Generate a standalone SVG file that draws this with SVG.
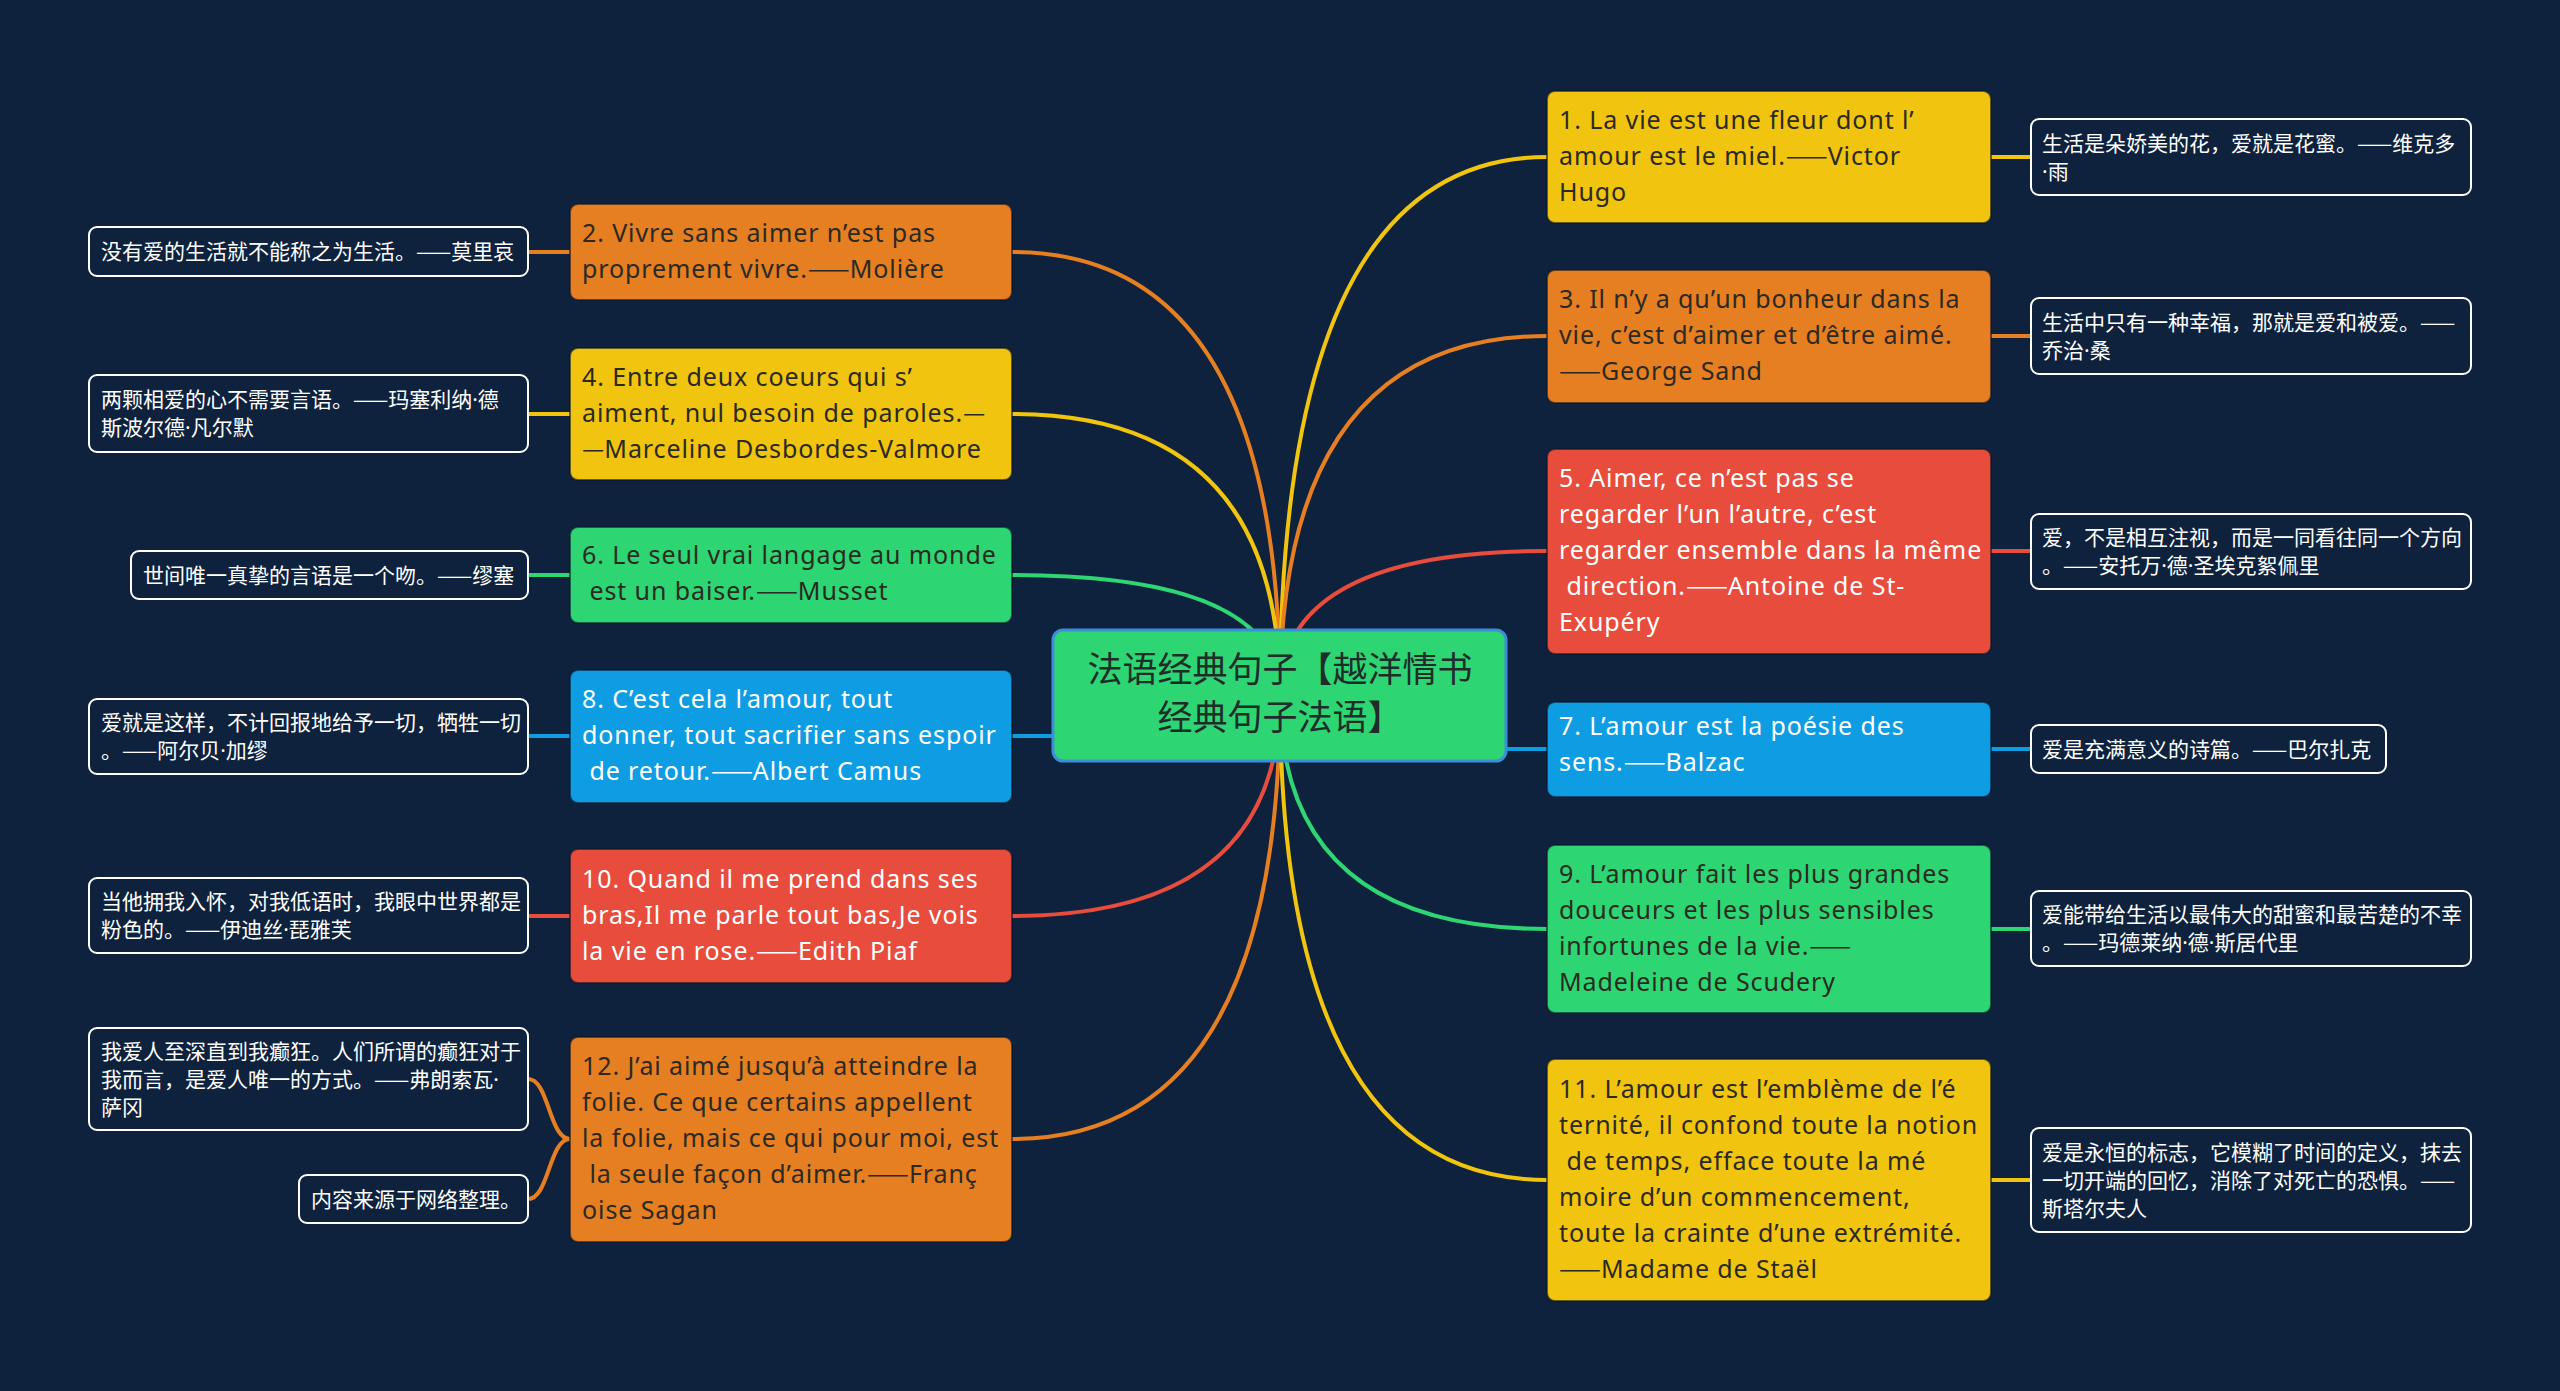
<svg xmlns="http://www.w3.org/2000/svg" width="2560" height="1391" viewBox="0 0 2560 1391">
<style>
.bg{fill:#0e223e}
.c{fill:none;stroke-width:4;stroke-linecap:round}
.cy{stroke:#f1c40f}.co{stroke:#e67e22}.cr{stroke:#e74c3c}.cg{stroke:#2ed573}.cb{stroke:#0e9de3}
.m{stroke:#0a1628;stroke-width:2;stroke-opacity:.6}
.fy{fill:#f1c40f}.fo{fill:#e67e22}.fr{fill:#e74c3c}.fg{fill:#2ed573}.fb{fill:#0e9de3}
.leaf{fill:#0e223e;stroke:#ffffff;stroke-width:2}
.t{font-family:"Noto Sans","Noto Sans CJK SC",sans-serif;font-size:25px;letter-spacing:0.9px;white-space:pre}
.d{font-family:"Noto Sans CJK SC",sans-serif;letter-spacing:0}
.p{font-family:"Noto Sans",sans-serif}
.dk{fill:#2a2a22}.wt{fill:#ffffff}
.lt{font-family:"Noto Sans CJK SC",sans-serif;font-size:21px;fill:#ffffff;white-space:pre}
.ct{font-family:"Noto Sans CJK SC",sans-serif;font-size:35px;fill:#1e2d2a;text-anchor:middle}
</style>
<rect class="bg" x="0" y="0" width="2560" height="1391"/>
<g id="connectors">
<path class="c co" d="M1280 695 Q1280 252 1012 252"/>
<path class="c cy" d="M1280 695 Q1280 414 1012 414"/>
<path class="c cg" d="M1280 695 Q1280 575 1012 575"/>
<path class="c cb" d="M1280 736 L1012 736"/>
<path class="c cr" d="M1280 695 Q1280 916 1012 916"/>
<path class="c co" d="M1280 695 Q1280 1139 1012 1139"/>
<path class="c cy" d="M1280 695 Q1280 157 1547 157"/>
<path class="c co" d="M1280 695 Q1280 336 1547 336"/>
<path class="c cr" d="M1280 695 Q1280 551 1547 551"/>
<path class="c cb" d="M1280 749 L1547 749"/>
<path class="c cg" d="M1280 695 Q1280 929 1547 929"/>
<path class="c cy" d="M1280 695 Q1280 1180 1547 1180"/>
<path class="c co" d="M570 252 L528 252"/>
<path class="c cy" d="M570 414 L528 414"/>
<path class="c cg" d="M570 575 L528 575"/>
<path class="c cb" d="M570 736 L528 736"/>
<path class="c cr" d="M570 916 L528 916"/>
<path class="c co" d="M570 1139 C549 1139 549 1079 528 1079"/>
<path class="c co" d="M570 1139 C549 1139 549 1199 528 1199"/>
<path class="c cy" d="M1991 157 L2031 157"/>
<path class="c co" d="M1991 336 L2031 336"/>
<path class="c cr" d="M1991 551 L2031 551"/>
<path class="c cb" d="M1991 749 L2031 749"/>
<path class="c cg" d="M1991 929 L2031 929"/>
<path class="c cy" d="M1991 1180 L2031 1180"/>
</g>
<g id="center">
<rect x="1053" y="630" width="453" height="131" rx="10" fill="#2ed573" stroke="#3a8fd6" stroke-width="3"/>
<text class="ct" x="1280" y="682">法语经典句子【越洋情书</text>
<text class="ct" x="1280" y="730">经典句子法语】</text>
</g>
<g id="n2">
<rect class="fo m" x="570" y="204" width="442" height="96" rx="8"/>
<text class="t dk" x="582" y="242">2. Vivre sans aimer n’est pas</text>
<text class="t dk" x="582" y="278">proprement vivre.<tspan class="d">——</tspan>Molière</text>
</g>
<g id="n4">
<rect class="fy m" x="570" y="348" width="442" height="132" rx="8"/>
<text class="t dk" x="582" y="386">4. Entre deux coeurs qui s’</text>
<text class="t dk" x="582" y="422">aiment, nul besoin de paroles.<tspan class="d">—</tspan></text>
<text class="t dk" x="582" y="458"><tspan class="d">—</tspan>Marceline Desbordes-Valmore</text>
</g>
<g id="n6">
<rect class="fg m" x="570" y="527" width="442" height="96" rx="8"/>
<text class="t dk" x="582" y="564">6. Le seul vrai langage au monde</text>
<text class="t dk" x="582" y="600"> est un baiser.<tspan class="d">——</tspan>Musset</text>
</g>
<g id="n8">
<rect class="fb m" x="570" y="670" width="442" height="133" rx="8"/>
<text class="t wt" x="582" y="708">8. C’est cela l’amour, tout</text>
<text class="t wt" x="582" y="744">donner, tout sacrifier sans espoir</text>
<text class="t wt" x="582" y="780"> de retour.<tspan class="d">——</tspan>Albert Camus</text>
</g>
<g id="n10">
<rect class="fr m" x="570" y="849" width="442" height="134" rx="8"/>
<text class="t wt" x="582" y="888">10. Quand il me prend dans ses</text>
<text class="t wt" x="582" y="924">bras,Il me parle tout bas,Je vois</text>
<text class="t wt" x="582" y="960">la vie en rose.<tspan class="d">——</tspan>Edith Piaf</text>
</g>
<g id="n12">
<rect class="fo m" x="570" y="1037" width="442" height="205" rx="8"/>
<text class="t dk" x="582" y="1075">12. J’ai aimé jusqu’à atteindre la</text>
<text class="t dk" x="582" y="1111">folie. Ce que certains appellent</text>
<text class="t dk" x="582" y="1147">la folie, mais ce qui pour moi, est</text>
<text class="t dk" x="582" y="1183"> la seule façon d’aimer.<tspan class="d">——</tspan>Franç</text>
<text class="t dk" x="582" y="1219">oise Sagan</text>
</g>
<g id="n1">
<rect class="fy m" x="1547" y="91" width="444" height="132" rx="8"/>
<text class="t dk" x="1559" y="129">1. La vie est une fleur dont l’</text>
<text class="t dk" x="1559" y="165">amour est le miel.<tspan class="d">——</tspan>Victor</text>
<text class="t dk" x="1559" y="201">Hugo</text>
</g>
<g id="n3">
<rect class="fo m" x="1547" y="270" width="444" height="133" rx="8"/>
<text class="t dk" x="1559" y="308">3. Il n’y a qu’un bonheur dans la</text>
<text class="t dk" x="1559" y="344">vie, c’est d’aimer et d’être aimé.</text>
<text class="t dk" x="1559" y="380"><tspan class="d">——</tspan>George Sand</text>
</g>
<g id="n5">
<rect class="fr m" x="1547" y="449" width="444" height="205" rx="8"/>
<text class="t wt" x="1559" y="487">5. Aimer, ce n’est pas se</text>
<text class="t wt" x="1559" y="523">regarder l’un l’autre, c’est</text>
<text class="t wt" x="1559" y="559">regarder ensemble dans la même</text>
<text class="t wt" x="1559" y="595"> direction.<tspan class="d">——</tspan>Antoine de St-</text>
<text class="t wt" x="1559" y="631">Exupéry</text>
</g>
<g id="n7">
<rect class="fb m" x="1547" y="702" width="444" height="95" rx="8"/>
<text class="t wt" x="1559" y="735">7. L’amour est la poésie des</text>
<text class="t wt" x="1559" y="771">sens.<tspan class="d">——</tspan>Balzac</text>
</g>
<g id="n9">
<rect class="fg m" x="1547" y="845" width="444" height="168" rx="8"/>
<text class="t dk" x="1559" y="883">9. L’amour fait les plus grandes</text>
<text class="t dk" x="1559" y="919">douceurs et les plus sensibles</text>
<text class="t dk" x="1559" y="955">infortunes de la vie.<tspan class="d">——</tspan></text>
<text class="t dk" x="1559" y="991">Madeleine de Scudery</text>
</g>
<g id="n11">
<rect class="fy m" x="1547" y="1059" width="444" height="242" rx="8"/>
<text class="t dk" x="1559" y="1098">11. L’amour est l’emblème de l’é</text>
<text class="t dk" x="1559" y="1134">ternité, il confond toute la notion</text>
<text class="t dk" x="1559" y="1170"> de temps, efface toute la mé</text>
<text class="t dk" x="1559" y="1206">moire d’un commencement,</text>
<text class="t dk" x="1559" y="1242">toute la crainte d’une extrémité.</text>
<text class="t dk" x="1559" y="1278"><tspan class="d">——</tspan>Madame de Staël</text>
</g>
<g id="l2">
<rect class="leaf" x="89" y="227" width="439" height="49" rx="8"/>
<text class="lt" x="101" y="259">没有爱的生活就不能称之为生活。——莫里哀</text>
</g>
<g id="l4">
<rect class="leaf" x="89" y="375" width="439" height="77" rx="8"/>
<text class="lt" x="101" y="407">两颗相爱的心不需要言语。——玛塞利纳<tspan class="p">·</tspan>德</text>
<text class="lt" x="101" y="435">斯波尔德<tspan class="p">·</tspan>凡尔默</text>
</g>
<g id="l6">
<rect class="leaf" x="131" y="551" width="397" height="48" rx="8"/>
<text class="lt" x="143" y="583">世间唯一真挚的言语是一个吻。——缪塞</text>
</g>
<g id="l8">
<rect class="leaf" x="89" y="699" width="439" height="75" rx="8"/>
<text class="lt" x="101" y="730">爱就是这样，不计回报地给予一切，牺牲一切</text>
<text class="lt" x="101" y="758">。——阿尔贝<tspan class="p">·</tspan>加缪</text>
</g>
<g id="l10">
<rect class="leaf" x="89" y="878" width="439" height="75" rx="8"/>
<text class="lt" x="101" y="909">当他拥我入怀，对我低语时，我眼中世界都是</text>
<text class="lt" x="101" y="937">粉色的。——伊迪丝<tspan class="p">·</tspan>琵雅芙</text>
</g>
<g id="l12a">
<rect class="leaf" x="89" y="1028" width="439" height="102" rx="8"/>
<text class="lt" x="101" y="1059">我爱人至深直到我癫狂。人们所谓的癫狂对于</text>
<text class="lt" x="101" y="1087">我而言，是爱人唯一的方式。——弗朗索瓦<tspan class="p">·</tspan></text>
<text class="lt" x="101" y="1115">萨冈</text>
</g>
<g id="l12b">
<rect class="leaf" x="299" y="1175" width="229" height="48" rx="8"/>
<text class="lt" x="311" y="1207">内容来源于网络整理。</text>
</g>
<g id="r1">
<rect class="leaf" x="2031" y="119" width="440" height="76" rx="8"/>
<text class="lt" x="2042" y="151">生活是朵娇美的花，爱就是花蜜。——维克多</text>
<text class="lt" x="2042" y="179"><tspan class="p">·</tspan>雨</text>
</g>
<g id="r3">
<rect class="leaf" x="2031" y="298" width="440" height="76" rx="8"/>
<text class="lt" x="2042" y="330">生活中只有一种幸福，那就是爱和被爱。——</text>
<text class="lt" x="2042" y="358">乔治<tspan class="p">·</tspan>桑</text>
</g>
<g id="r5">
<rect class="leaf" x="2031" y="514" width="440" height="75" rx="8"/>
<text class="lt" x="2042" y="545">爱，不是相互注视，而是一同看往同一个方向</text>
<text class="lt" x="2042" y="573">。——安托万<tspan class="p">·</tspan>德<tspan class="p">·</tspan>圣埃克絮佩里</text>
</g>
<g id="r7">
<rect class="leaf" x="2031" y="725" width="355" height="48" rx="8"/>
<text class="lt" x="2042" y="757">爱是充满意义的诗篇。——巴尔扎克</text>
</g>
<g id="r9">
<rect class="leaf" x="2031" y="891" width="440" height="75" rx="8"/>
<text class="lt" x="2042" y="922">爱能带给生活以最伟大的甜蜜和最苦楚的不幸</text>
<text class="lt" x="2042" y="950">。——玛德莱纳<tspan class="p">·</tspan>德<tspan class="p">·</tspan>斯居代里</text>
</g>
<g id="r11">
<rect class="leaf" x="2031" y="1128" width="440" height="104" rx="8"/>
<text class="lt" x="2042" y="1160">爱是永恒的标志，它模糊了时间的定义，抹去</text>
<text class="lt" x="2042" y="1188">一切开端的回忆，消除了对死亡的恐惧。——</text>
<text class="lt" x="2042" y="1216">斯塔尔夫人</text>
</g>
</svg>
